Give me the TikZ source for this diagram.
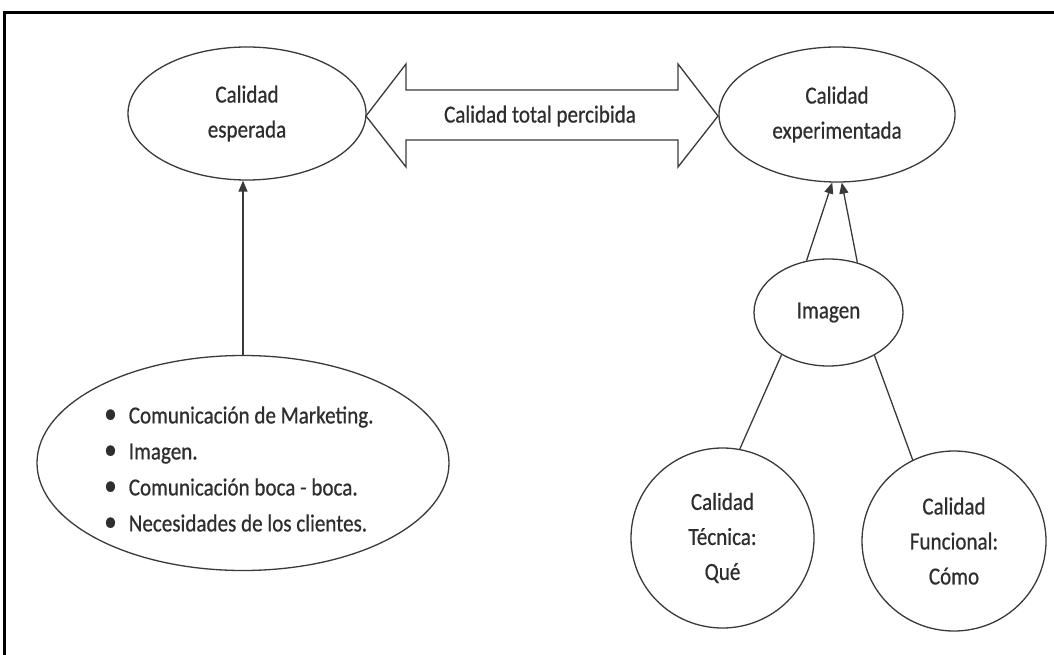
\documentclass[tikz,border=0pt]{standalone}
\usepackage{fontspec}
\setmainfont{Carlito}[FakeStretch=0.86,FakeBold=0.6]
\usetikzlibrary{shapes.geometric,arrows.meta}
\definecolor{ln}{HTML}{3A3A3A}
\definecolor{tx}{HTML}{2E2E2E}
\tikzset{
  oval/.style={ellipse,draw=ln,line width=1.3pt,inner sep=0pt,align=center,text=tx,
     font=\fontsize{24.5pt}{35pt}\selectfont},
  circ/.style={oval},
  conn/.style={draw=ln,line width=1.3pt},
  arr/.style={conn,-{Triangle[length=11pt,width=9pt]}},
  lbl/.style={text=tx,font=\fontsize{24.5pt}{35pt}\selectfont,inner sep=0pt}
}
\newcommand{\mybul}{\raisebox{0.5pt}{\scalebox{1.2}{\textbullet}}\hspace{12pt}}
\begin{document}
\begin{tikzpicture}[x=1pt,y=-1pt]
\useasboundingbox (0,0) rectangle (1054,655);
\fill[white] (0,0) rectangle (1054,655);
% frame
\draw[line width=3pt,black] (4.5,655) -- (4.5,12.5) -- (1054,12.5);
% nodes
\node[oval,minimum width=238pt,minimum height=133pt] (esp) at (247,113.5) {Calidad\\esperada};
\node[oval,minimum width=236pt,minimum height=135pt] (exp) at (837,114.5) {Calidad\\experimentada};
\node[oval,minimum width=412pt,minimum height=215pt] (bul) at (243,463) {};
\node[lbl,anchor=west,align=left,
      font=\fontsize{24.5pt}{36pt}\selectfont] (items) at (104,469) {%
  \mybul Comunicación de Marketing.\\
  \mybul Imagen.\\
  \mybul Comunicación boca - boca.\\
  \mybul Necesidades de los clientes.};
\node[oval,minimum width=149pt,minimum height=107pt] (img) at (828.5,312.5) {Imagen};
\node[circ,minimum width=183pt,minimum height=180pt] (tec) at (722.5,538) {Calidad\\Técnica:\\Qué};
\node[circ,minimum width=184pt,minimum height=180pt] (fun) at (954,541) {Calidad\\Funcional:\\Cómo};
% double arrow
\draw[conn,line join=miter] (366,116) -- (406,64) -- (406,90) -- (678,90) -- (678,64) -- (718,116)
  -- (678,167) -- (678,140) -- (406,140) -- (406,167) -- cycle;
\node[lbl] (tot) at (540,116) {Calidad total percibida};
% connectors
\draw[arr] (bul.north) -- (bul.north |- esp.south);
\draw[arr] (img.113) -- (exp.266);
\draw[arr] (img.60) -- (exp.274);
\draw[conn] (img.222) -- (tec.79);
\draw[conn] (img.317) -- (fun.117);
\end{tikzpicture}
\end{document}
